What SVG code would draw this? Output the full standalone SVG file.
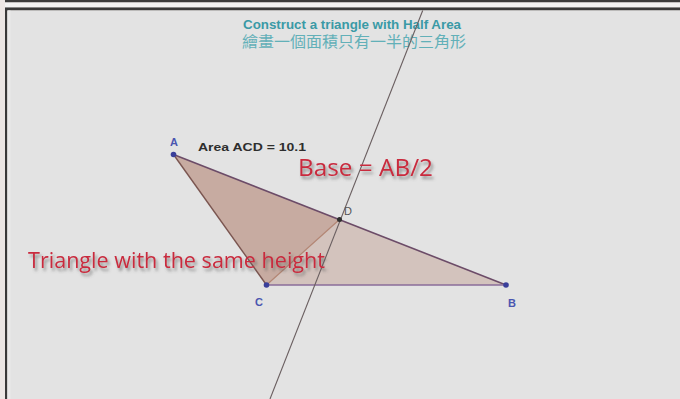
<svg xmlns="http://www.w3.org/2000/svg" width="680" height="399" viewBox="0 0 680 399">
<defs>
<style>
.lbl{font-family:"Liberation Sans",Arial,sans-serif;font-weight:bold;font-size:11px;fill:#4a56b0;text-anchor:middle}
.red{font-family:"Open Sans","Liberation Sans",Arial,sans-serif;fill:#c92a3e;filter:url(#sh)}
.pt{fill:#3a3f9a}
</style>
<filter id="sh" x="-10%" y="-30%" width="120%" height="180%">
<feDropShadow dx="2" dy="3" stdDeviation="1.8" flood-color="#555" flood-opacity="0.6"/>
</filter>
</defs>
<!-- frame -->
<rect x="0" y="0" width="680" height="399" fill="#ece7e5"/>
<rect x="5" y="0" width="675" height="2.5" fill="#3c3c3c"/>
<rect x="5" y="2.5" width="675" height="5" fill="#f3f3f3"/>
<rect x="5" y="7" width="675" height="1" fill="#8a8a8a"/>
<rect x="5" y="8" width="675" height="2.5" fill="#3a3a3a"/>
<rect x="5" y="8" width="2.5" height="391" fill="#3a3a3a"/>
<rect x="7.5" y="10.5" width="672.5" height="388.5" fill="#e3e3e3"/>
<rect x="7.5" y="10.5" width="3" height="388.5" fill="#eaeaea"/>
<!-- titles -->
<g id="title">
<text x="352" y="28.5" text-anchor="middle" font-family="'Liberation Sans',Arial,sans-serif" font-weight="bold" font-size="12.5" fill="#3a9aa6" textLength="218" lengthAdjust="spacingAndGlyphs">Construct a triangle with Half Area</text>
<text x="354" y="47" text-anchor="middle" font-family="'Liberation Sans','Noto Sans CJK TC',sans-serif" font-size="15" fill="#62b0b8" textLength="224" lengthAdjust="spacingAndGlyphs">繪畫一個面積只有一半的三角形</text>
</g>
<!-- polygons -->
<g id="triangleABC">
<polygon points="173.5,154.5 506,285 266.5,285" fill="#a86a50" fill-opacity="0.26"/>
</g>
<g id="triangleACD">
<polygon points="173.5,154.5 339.5,219.5 266.5,285" fill="#a86a50" fill-opacity="0.26"/>
</g>
<!-- connectors -->
<g id="connectors" fill="none">
<line x1="173.5" y1="154.5" x2="506" y2="285" stroke="#6c4c68" stroke-width="1.6"/>
<line x1="266.5" y1="285" x2="506" y2="285" stroke="#8a6c9a" stroke-width="1.6"/>
<line x1="173.5" y1="154.5" x2="266.5" y2="285" stroke="#7a5550" stroke-width="1.4"/>
<line x1="266.5" y1="285" x2="339.5" y2="219.5" stroke="#b38674" stroke-width="1.2"/>
<line x1="422.7" y1="10.5" x2="270" y2="399" stroke="#6a5f60" stroke-width="1.1"/>
</g>
<!-- points -->
<g id="A"><circle class="pt" cx="173.5" cy="154.5" r="2.8"/><text class="lbl" x="174" y="146">A</text></g>
<g id="B"><circle class="pt" cx="506" cy="285" r="2.8"/><text class="lbl" x="512" y="307">B</text></g>
<g id="C"><circle class="pt" cx="266.5" cy="285" r="2.8"/><text class="lbl" x="259" y="306">C</text></g>
<g id="D"><circle cx="339.5" cy="219.5" r="2.5" fill="#2e2e2e"/><text class="lbl" x="348" y="215" style="fill:#555;font-weight:normal">D</text></g>
<!-- texts -->
<g id="area"><text x="198" y="151" font-family="'Liberation Sans',Arial,sans-serif" font-weight="bold" font-size="11.5" fill="#2e2e2e" textLength="108" lengthAdjust="spacingAndGlyphs">Area ACD = 10.1</text></g>
<g id="base"><text class="red" x="298" y="176" font-size="23" textLength="135" lengthAdjust="spacingAndGlyphs">Base = AB/2</text></g>
<g id="sameheight"><text class="red" x="28" y="268" font-size="21" textLength="297" lengthAdjust="spacingAndGlyphs">Triangle with the same height</text></g>
</svg>
